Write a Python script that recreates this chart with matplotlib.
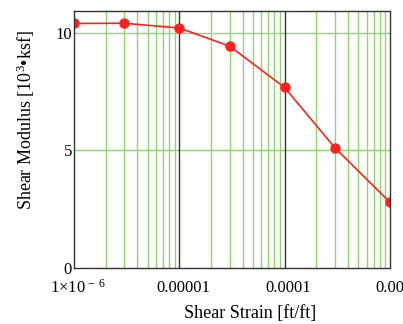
import matplotlib
matplotlib.use("Agg")
import matplotlib.pyplot as plt
import matplotlib.transforms as mtransforms
import numpy as np

plt.rcParams['font.family'] = ['Liberation Serif', 'DejaVu Serif']
plt.rcParams['mathtext.fontset'] = 'custom'
plt.rcParams['mathtext.rm'] = 'Liberation Serif'
plt.rcParams['mathtext.it'] = 'Liberation Serif:italic'

# Data
strain = [1e-6, 3e-6, 1e-5, 3e-5, 1e-4, 3e-4, 1e-3]
modulus = [10.39, 10.40, 10.20, 9.43, 7.67, 5.11, 2.79]

x_ticks = [1e-6, 1e-5, 1e-4, 1e-3]
x_ticklabels = [r'$1{\times}10^{\,-\ 6}$', '0.00001', '0.0001', '0.001']
y_ticks = [0, 5, 10]
y_ticklabels = ['0', '5', '10']

green = '#8fd470'
red = '#ff1f1f'
dark = '#333333'

fig = plt.figure(figsize=(4.03, 3.24), dpi=100)
ax = fig.add_axes([74/403, 1-268/324, 316/403, 257/324])
ax.set_xscale('log')
ax.set_xlim(1e-6, 1e-3)
ax.set_ylim(0, 10.92)

# grid
minor = [m * 10.0**e for e in (-6, -5, -4) for m in range(2, 10)]
for xm in minor:
    ax.axvline(xm, color=green, lw=1.0, zorder=1)
for yv in (5, 10):
    ax.axhline(yv, color=green, lw=1.0, zorder=1)
for xv in (1e-5, 1e-4):
    ax.axvline(xv, color=dark, lw=1.0, zorder=1.5)

line, = ax.plot(strain, modulus, color=red, lw=1.2, marker='o', markersize=6.5,
                zorder=3, clip_on=True)
line.set_clip_box(ax.bbox)

ax.set_xticks(x_ticks)
ax.set_xticklabels(x_ticklabels, fontsize=12)
ax.minorticks_off()
ax.set_yticks(y_ticks)
ax.set_yticklabels(y_ticklabels, fontsize=12)
ax.tick_params(axis='both', length=0)
ax.tick_params(axis='x', pad=17.5)
ax.tick_params(axis='y', pad=1.5)
offset = mtransforms.ScaledTranslation(0.04, 0, fig.dpi_scale_trans)
for lab in ax.get_xticklabels():
    lab.set_verticalalignment('baseline')
    lab.set_transform(lab.get_transform() + offset)

for s in ax.spines.values():
    s.set_color(dark)
    s.set_linewidth(1.0)
    s.set_zorder(4)

ax.set_xlabel('Shear Strain [ft/ft]', fontsize=13)
ax.xaxis.set_label_coords(0.557, -0.145)
ax.set_ylabel('Shear Modulus [10$^{3}$•ksf]', fontsize=13)
ax.yaxis.set_label_coords(-0.117, 0.575)

fig.savefig('out.png', dpi=100)
